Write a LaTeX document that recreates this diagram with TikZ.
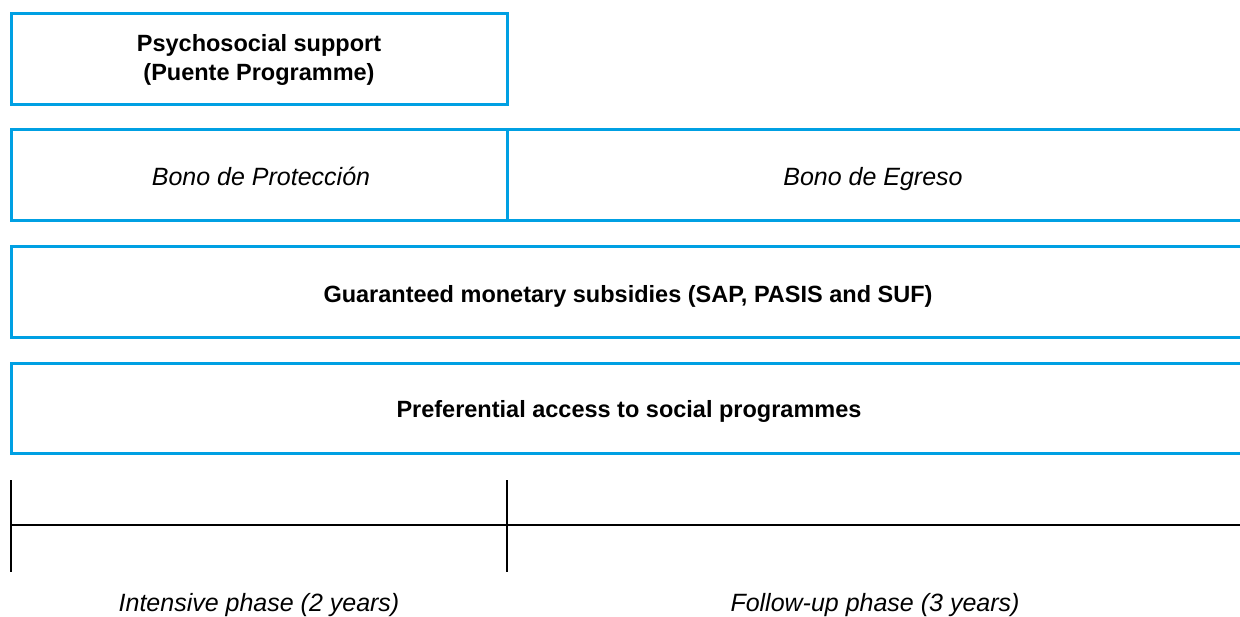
\documentclass[tikz,border=0pt]{standalone}
\usepackage{fontspec}
\setmainfont{Liberation Sans}
\definecolor{boxblue}{RGB}{0,160,227}
\tikzset{
  bluebox/.style={draw=boxblue, line width=3pt},
  timeline/.style={draw=black, line width=2.9pt},
  boldtxt/.style={font=\fontsize{23.5}{29}\selectfont\bfseries, inner sep=0pt, align=center},
  itxt/.style={font=\fontsize{25}{29}\selectfont\itshape, inner sep=0pt, anchor=base},
  btxt/.style={font=\fontsize{23.5}{29}\selectfont\bfseries, inner sep=0pt, anchor=base}
}
\begin{document}
\begin{tikzpicture}[x=1pt,y=-1pt]
\useasboundingbox (0,0) rectangle (1240,616);
% box 1
\draw[bluebox] (11,13) rectangle (507,104);
\node[boldtxt] (psy) at (259,60.4) {Psychosocial support\\(Puente Programme)};
% box 2
\draw[bluebox] (1242,129) -- (11,129) -- (11,220) -- (1242,220);
\draw[bluebox] (507,129) -- (507,220);
\node[itxt] (prot) at (261,185) {Bono de Protección};
\node[itxt] (egr) at (873,185) {Bono de Egreso};
% box 3
\draw[bluebox] (1242,246) -- (11,246) -- (11,337) -- (1242,337);
\node[btxt] (gms) at (628,302) {Guaranteed monetary subsidies (SAP, PASIS and SUF)};
% box 4
\draw[bluebox] (1242,363) -- (11,363) -- (11,453) -- (1242,453);
\node[btxt] (pas) at (629,417) {Preferential access to social programmes};
% timeline
\coordinate (tl) at (11,525);
\coordinate (tm) at (507,525);
\coordinate (tr) at (1242,525);
\coordinate (t1a) at (11,480);
\coordinate (t1b) at (11,572);
\coordinate (t2a) at (507,480);
\coordinate (t2b) at (507,572);
\draw[timeline] (tl) -- (tr);
\draw[timeline] (t1a) -- (t1b);
\draw[timeline] (t2a) -- (t2b);
\node[itxt] (int) at (259,611) {Intensive phase (2 years)};
\node[itxt] (fol) at (875,611) {Follow-up phase (3 years)};
\end{tikzpicture}
\end{document}
